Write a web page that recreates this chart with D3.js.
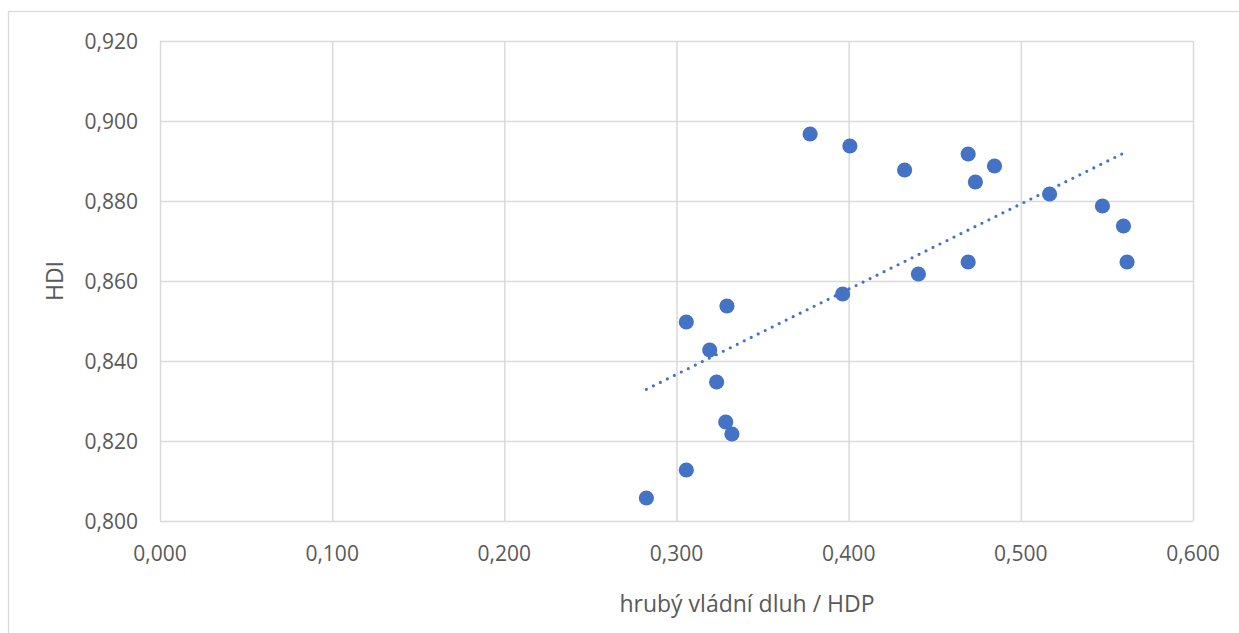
<!DOCTYPE html>
<html>
<head>
<meta charset="utf-8">
<script src="https://cdn.jsdelivr.net/npm/d3@7"></script>
<style>
  html, body { margin: 0; padding: 0; background: #fff; overflow: hidden; }
  text { font-family: "Open Sans", sans-serif; fill: #595959; }
</style>
</head>
<body>
<div></div>
<script>
// debt / GDP (x) vs HDI (y)
const debtRatio = [0.2825, 0.3057, 0.3057, 0.3193, 0.3233, 0.3293, 0.3286, 0.3322,
                   0.3776, 0.4007, 0.3965, 0.4325, 0.4405, 0.4694, 0.4694, 0.4847,
                   0.4736, 0.5167, 0.5474, 0.5596, 0.5617];
const hdi = [0.806, 0.813, 0.850, 0.843, 0.835, 0.854, 0.825, 0.822,
             0.897, 0.894, 0.857, 0.888, 0.862, 0.892, 0.865, 0.889,
             0.885, 0.882, 0.879, 0.874, 0.865];
const xTicks = [0, 0.1, 0.2, 0.3, 0.4, 0.5, 0.6];
const yTicks = [0.80, 0.82, 0.84, 0.86, 0.88, 0.90, 0.92];
const xTitle = 'hrubý vládní dluh / HDP';
const yTitle = 'HDI';

const svgWidth = 1239,
    svgHeight = 633;
const plot = { left: 160, right: 1193, top: 41, bottom: 521 };
const fmt = v => d3.format('.3f')(v).replace('.', ',');

const svg = d3.select('body')
                .select('div')
                .append('svg')
                .attr('width', svgWidth)
                .attr('height', svgHeight);

// chart area border
svg.append('rect')
    .attr('x', 8.5).attr('y', 11.5)
    .attr('width', 1400).attr('height', 800)
    .attr('fill', 'none')
    .attr('stroke', '#d9d9d9')
    .attr('stroke-width', 1.3);

const xScale = d3.scaleLinear()
                .domain([0, 0.6])
                .range([plot.left, plot.right]);

const yScale = d3.scaleLinear()
                .domain([0.8, 0.92])
                .range([plot.bottom, plot.top]);

// gridlines
svg.append('g')
    .attr('transform', `translate(0, ${plot.bottom})`)
    .call(d3.axisBottom(xScale).tickValues(xTicks).tickSize(-(plot.bottom - plot.top)).tickFormat(''))
    .call(g => g.select('.domain').remove())
    .selectAll('line')
    .attr('stroke', '#d9d9d9')
    .attr('stroke-width', 1.5);

svg.append('g')
    .attr('transform', `translate(${plot.left}, 0)`)
    .call(d3.axisLeft(yScale).tickValues(yTicks).tickSize(-(plot.right - plot.left)).tickFormat(''))
    .call(g => g.select('.domain').remove())
    .selectAll('line')
    .attr('stroke', '#d9d9d9')
    .attr('stroke-width', 1.5);

// tick labels
svg.append('g')
    .attr('id', 'x-axis')
    .selectAll('text')
    .data(xTicks)
    .enter()
    .append('text')
    .attr('x', d => xScale(d))
    .attr('y', plot.bottom + 40)
    .attr('text-anchor', 'middle')
    .style('font-size', '21px')
    .text(fmt);

svg.append('g')
    .attr('id', 'y-axis')
    .selectAll('text')
    .data(yTicks)
    .enter()
    .append('text')
    .attr('x', 138)
    .attr('y', d => yScale(d) + 8)
    .attr('text-anchor', 'end')
    .style('font-size', '21px')
    .text(fmt);

// axis titles
svg.append('text')
    .attr('x', 747)
    .attr('y', 612)
    .attr('text-anchor', 'middle')
    .style('font-size', '23px')
    .text(xTitle);

svg.append('text')
    .attr('transform', `translate(63, ${(plot.top + plot.bottom) / 2}) rotate(-90)`)
    .attr('text-anchor', 'middle')
    .style('font-size', '23px')
    .text(yTitle);

// series layer, nudged 1px down like the original render
const series = svg.append('g')
                .attr('transform', 'translate(0, 1)');

// linear trendline (least squares over the points)
const mx = d3.mean(debtRatio), my = d3.mean(hdi);
const sxy = d3.sum(debtRatio, (x, i) => (x - mx) * (hdi[i] - my));
const sxx = d3.sum(debtRatio, x => (x - mx) * (x - mx));
const slope = sxy / sxx, icpt = my - slope * mx;
const xExt = d3.extent(debtRatio);
const trend = xExt.map(x => [x, icpt + slope * x]);

series.append('path')
    .datum(trend)
    .attr('d', d3.line().x(d => xScale(d[0])).y(d => yScale(d[1])))
    .attr('fill', 'none')
    .attr('stroke', '#4472c4')
    .attr('stroke-width', 3.2)
    .attr('stroke-linecap', 'round')
    .attr('stroke-dasharray', '0 7.8');

// points
series.append('g')
    .selectAll('circle')
    .data(debtRatio.map((x, i) => [x, hdi[i]]))
    .enter()
    .append('circle')
    .attr('class', 'dot')
    .attr('cx', d => xScale(d[0]))
    .attr('cy', d => yScale(d[1]))
    .attr('r', 7.6)
    .attr('fill', '#4472c4');
</script>
</body>
</html>
